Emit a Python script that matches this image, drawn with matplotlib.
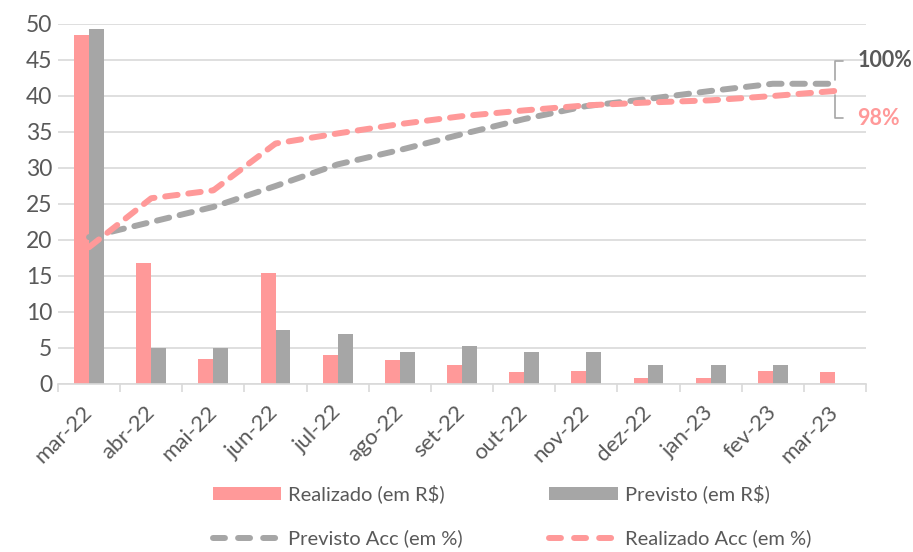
import matplotlib
matplotlib.use("Agg")
import matplotlib.pyplot as plt
from matplotlib.patches import Patch
from matplotlib.lines import Line2D
import numpy as np

plt.rcParams['font.family'] = ['Lato', 'DejaVu Sans']

categories = ['mar-22', 'abr-22', 'mai-22', 'jun-22', 'jul-22', 'ago-22', 'set-22',
              'out-22', 'nov-22', 'dez-22', 'jan-23', 'fev-23', 'mar-23']
realizado = [48.5, 16.8, 3.5, 15.4, 4.0, 3.3, 2.7, 1.7, 1.8, 0.9, 0.9, 1.8, 1.6]
previsto = [49.3, 5.0, 5.0, 7.5, 6.9, 4.5, 5.3, 4.5, 4.5, 2.6, 2.6, 2.6, 0.0]
previsto_acc = [20.4, 22.5, 24.6, 27.5, 30.5, 32.5, 34.7, 36.8, 38.6, 39.6, 40.7, 41.7, 41.7]
realizado_acc = [19.0, 25.8, 26.9, 33.4, 34.8, 36.1, 37.2, 38.0, 38.7, 39.1, 39.4, 40.0, 40.7]
end_labels = ['100%', '98%']

PINK = '#FF9999'
GRAY = '#A6A6A6'
TXT = '#595959'
GRID = '#D9D9D9'

fig = plt.figure(figsize=(9.13, 5.52), dpi=100)
ax = fig.add_axes([58/913, 1-384/552, (866-58)/913, (384-24)/552])

x = np.arange(len(categories))
w = 0.24
ax.bar(x - w/2, realizado, w, color=PINK, zorder=2)
ax.bar(x + w/2, previsto, w, color=GRAY, zorder=2)

LW = 4.3
DASH = (2.1, 1.8)
lp, = ax.plot(x, previsto_acc, color=GRAY, lw=LW, zorder=3,
              dashes=DASH, dash_capstyle='round')
lr, = ax.plot(x, realizado_acc, color=PINK, lw=LW, zorder=4,
              dashes=DASH, dash_capstyle='round')

ax.set_xlim(-0.5, len(categories) - 0.5)
ax.set_ylim(0, 50)
ax.set_yticks(np.arange(0, 51, 5))
ax.yaxis.grid(True, color=GRID, lw=1.2, zorder=0)
ax.set_axisbelow(True)
for s in ['top', 'right', 'left']:
    ax.spines[s].set_visible(False)
ax.spines['bottom'].set_color(GRID)
ax.spines['bottom'].set_linewidth(1.2)
ax.tick_params(axis='y', length=0, labelsize=16.5, labelcolor=TXT, pad=4)

ax.set_xticks(np.arange(-0.5, len(categories), 1.0), minor=False)
ax.set_xticklabels([])
ax.tick_params(axis='x', which='major', length=6, color=GRID, width=1.2)
ax.set_xticks(x, minor=True)
ax.set_xticklabels(categories, minor=True, rotation=45, ha='right', va='center',
                   rotation_mode='anchor', fontsize=16, color=TXT)
ax.tick_params(axis='x', which='minor', length=0, pad=18)

# end labels with leader lines
ax.annotate(end_labels[0], xy=(x[-1], previsto_acc[-1]), xytext=(12.36, 44.9),
            ha='left', va='center', fontsize=15.5, fontweight='bold', color=TXT,
            annotation_clip=False,
            arrowprops=dict(arrowstyle='-', color=GRAY, lw=1.2, shrinkA=8, shrinkB=3,
                            connectionstyle='angle,angleA=0,angleB=90,rad=0'))
ax.annotate(end_labels[1], xy=(x[-1], realizado_acc[-1]), xytext=(12.36, 36.9),
            ha='left', va='center', fontsize=15.5, fontweight='bold', color=PINK,
            annotation_clip=False,
            arrowprops=dict(arrowstyle='-', color=GRAY, lw=1.2, shrinkA=8, shrinkB=3,
                            connectionstyle='angle,angleA=0,angleB=90,rad=0'))

h_real = Patch(facecolor=PINK, edgecolor='none')
h_prev = Patch(facecolor=GRAY, edgecolor='none')
h_pacc = Line2D([], [], color=GRAY, lw=LW, dashes=(2.0, 2.2), dash_capstyle='round')
h_racc = Line2D([], [], color=PINK, lw=LW, dashes=(2.0, 2.2), dash_capstyle='round')
leg = fig.legend([h_real, h_pacc, h_prev, h_racc],
                 ['Realizado (em R$)', 'Previsto Acc (em %)', 'Previsto (em R$)', 'Realizado Acc (em %)'],
                 ncol=2, loc='center', bbox_to_anchor=(512/913, 1-516/552),
                 frameon=False, fontsize=14.5, handlelength=3.4, handleheight=0.65,
                 handletextpad=0.35, columnspacing=4.3, labelspacing=1.3, labelcolor=TXT)

fig.savefig('out.png', dpi=100)
